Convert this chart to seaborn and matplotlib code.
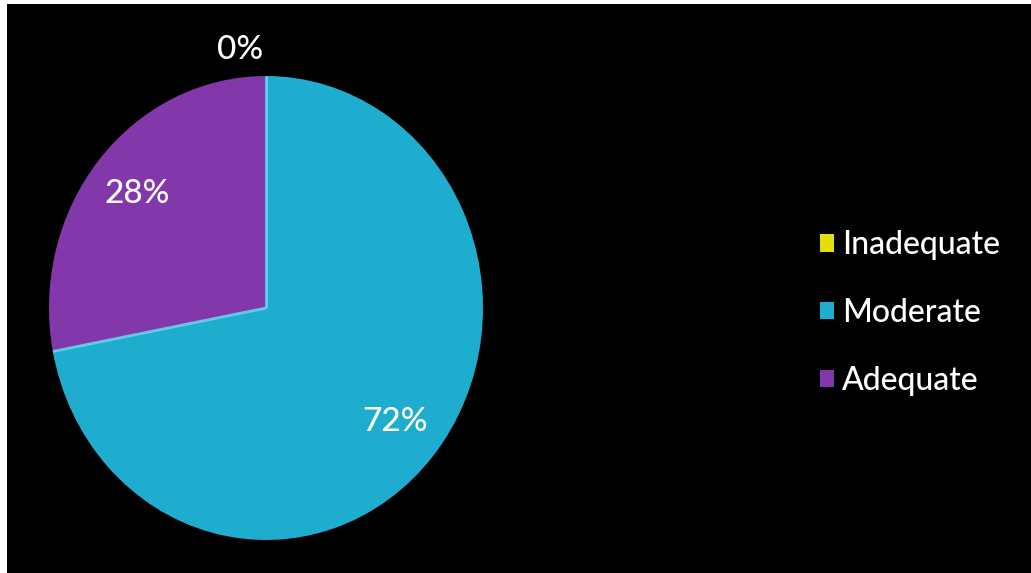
import matplotlib
matplotlib.use("Agg")
import matplotlib.pyplot as plt
from matplotlib.patches import Rectangle
import seaborn as sns
import numpy as np

categories = ["Inadequate", "Moderate", "Adequate"]
values = [0, 72, 28]
colors = ["#E6DC0A", "#1FADCF", "#8238AB"]

sns.set_theme(style="dark")
plt.rcParams["font.family"] = ["Lato", "DejaVu Sans"]

W, H = 1031, 573
fig = plt.figure(figsize=(W / 100, H / 100), dpi=100)
fig.patch.set_facecolor("black")
# white margin on left and top
fig.patches.append(Rectangle((0, 0), 7 / W, 1, transform=fig.transFigure,
                             facecolor="white", edgecolor="none", zorder=0))
fig.patches.append(Rectangle((0, 1 - 4 / H), 1, 4 / H, transform=fig.transFigure,
                             facecolor="white", edgecolor="none", zorder=0))

# pie axes: ellipse center ~(266, 308), rx~217, ry~232
cx, cy, rx, ry = 266, 308, 217, 232
ax = fig.add_axes([(cx - rx) / W, (H - cy - ry) / H, 2 * rx / W, 2 * ry / H])
ax.set_facecolor("black")
ax.axis("off")

wedges, texts, autotexts = ax.pie(
    values, colors=colors, startangle=90, counterclock=False,
    autopct=lambda p: f"{p:.0f}%", pctdistance=0.77,
    wedgeprops=dict(edgecolor="none", linewidth=0),
    textprops=dict(color="white", fontsize=24, fontweight="medium"),
)
ax.set_aspect("auto")
ax.set_xlim(-1, 1)
ax.set_ylim(-1, 1)

# subtle light bevel along the inner boundaries of the moderate slice
ang0 = np.deg2rad(90)
ang1 = np.deg2rad(90 - 360 * (values[0] + values[1]) / sum(values))
for a in (ang0, ang1):
    ax.plot([0, np.cos(a)], [0, np.sin(a)], color="#6FE0F2", lw=2.0,
            solid_capstyle="butt", alpha=0.8)

# zero slice label sits just outside the top of the pie
for t, v in zip(autotexts, values):
    if v == 0:
        t.set_position((-0.12, 1.11))

handles = [Rectangle((0, 0), 1, 1, facecolor=c, edgecolor="none") for c in colors]
leg = fig.legend(handles, categories, loc="center left",
                 bbox_to_anchor=(791 / W, 1 - 313 / H), frameon=False,
                 labelcolor="white", handlelength=0.45,
                 handleheight=0.45, handletextpad=0.25, labelspacing=1.18,
                 prop=dict(size=23, weight="medium"))

fig.savefig("out.png", dpi=100, facecolor=fig.get_facecolor())
